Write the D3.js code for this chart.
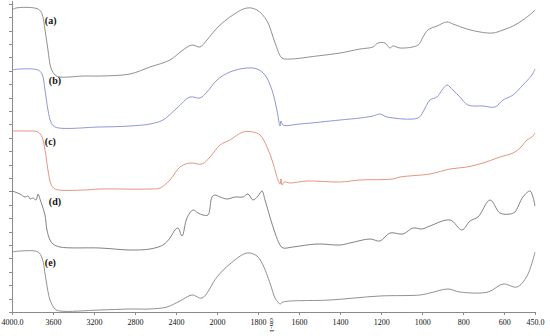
<!DOCTYPE html>
<html>
<head>
<meta charset="utf-8">
<script src="https://cdn.jsdelivr.net/npm/d3@7"></script>
<style>
  body { margin: 0; background: #fff; }
  .axis path, .axis line { stroke: #8a8a8a; shape-rendering: crispEdges; }
  .axis text { font-family: "Liberation Serif", serif; font-size: 8px; fill: #111; }
</style>
</head>
<body>
<svg id="chart" width="550" height="336"></svg>
<script>
// wavenumber (cm-1), transmittance (arbitrary, stacked)
var trace_a = [[4000,302],[3961,304],[3746,303],[3707,298],[3678,282],[3649,262],[3620,244],[3580,237],[3532,235],
  [3300,236],[3141,236],[2849,238],[2654,245],[2459,252],[2332,262],[2244,267],[2166,265],[2098,272],[2000,284],
  [1937,295],[1854,304],[1805,302],[1756,291],[1717,269],[1683,254],[1644,253],[1513,256],[1400,259],[1303,263],
  [1240,265],[1215,269],[1181,269],[1157,264],[1142,266],[1108,264],[1020,267],[996,275],[972,282],[928,286],
  [879,290],[850,288],[782,283],[718,280],[655,279],[606,282],[557,286],[509,292],[465,299],[450,302]];

var trace_b = [[4000,242],[3922,243],[3746,242],[3707,238],[3678,222],[3649,202],[3620,190],[3580,185],[3141,185],
  [2849,186],[2654,188],[2527,192],[2390,204],[2263,215],[2166,214],[2098,220],[2000,232],[1937,240],[1854,244],
  [1805,243],[1766,237],[1732,222],[1708,202],[1693,186],[1688,191],[1678,187],[1595,188],[1400,192],[1303,194],
  [1240,196],[1206,198],[1171,195],[1020,194],[996,200],[962,212],[928,215],[903,222],[879,227],[850,222],
  [816,215],[777,207],[703,206],[645,205],[606,212],[557,217],[509,227],[465,237],[450,243]];

var trace_c = [[4000,181],[3873,181],[3746,180],[3707,175],[3678,162],[3649,142],[3620,128],[3580,123],[3300,122],
  [3141,123],[2654,123],[2556,124],[2459,132],[2361,145],[2263,149],[2146,148],[2068,155],[1985,167],[1937,172],
  [1873,180],[1825,180],[1790,177],[1756,165],[1727,149],[1703,132],[1693,128],[1688,133],[1683,127],[1673,130],
  [1644,129],[1561,131],[1400,130],[1303,132],[1142,133],[1108,135],[962,138],[864,143],[782,145],[703,149],
  [621,155],[557,159],[523,164],[489,172],[465,175],[450,179]];

var trace_d = [[4000,121],[3971,120],[3922,118],[3873,115],[3844,116],[3824,113],[3795,114],[3766,112],[3746,118],
  [3727,113],[3707,107],[3678,97],[3659,82],[3629,72],[3600,68],[3532,65],[3141,64],[2849,62],[2654,63],
  [2527,67],[2459,74],[2410,82],[2380,84],[2341,76],[2293,94],[2234,102],[2185,99],[2137,97],[2088,97],
  [2049,115],[2020,117],[1985,115],[1951,113],[1912,115],[1873,115],[1849,118],[1825,112],[1800,116],[1781,121],
  [1766,112],[1742,95],[1717,79],[1693,67],[1678,64],[1630,65],[1513,68],[1400,67],[1352,69],[1254,73],
  [1206,71],[1157,79],[1093,78],[1045,84],[1001,83],[962,86],[864,92],[806,82],[767,91],[728,95],[669,112],
  [621,99],[572,98],[548,100],[509,115],[474,121],[460,115],[450,106]];

var trace_e = [[4000,60],[3922,61],[3746,60],[3707,54],[3668,32],[3629,12],[3580,3],[3532,1],[3141,2],[2849,3],
  [2654,3],[2488,5],[2361,11],[2244,17],[2146,14],[2000,35],[1937,48],[1854,59],[1805,56],[1776,47],[1742,29],
  [1717,14],[1703,10],[1693,8],[1678,10],[1449,12],[1206,16],[1011,17],[962,19],[874,23],[816,20],[679,20],
  [606,28],[538,25],[489,36],[450,60]];

var traces = [trace_a, trace_b, trace_c, trace_d, trace_e];
var trace_labels = ["(a)", "(b)", "(c)", "(d)", "(e)"];
var trace_colors = ["#858585", "#8489d6", "#e38874", "#747474", "#858585"];
var x_ticks = [4000, 3600, 3200, 2800, 2400, 2000, 1800, 1600, 1400, 1200, 1000, 800, 600, 450];

var svg = d3.select("#chart"),
    margin = {top: 0, right: 15, bottom: 24, left: 12},
    width = +svg.attr("width") - margin.left - margin.right,
    height = +svg.attr("height") - margin.top - margin.bottom,
    g = svg.append("g").attr("transform", "translate(" + margin.left + "," + margin.top + ")");

// spectrometer style scale: expanded below 2000 cm-1
var x = d3.scaleLinear()
    .domain([4000, 2000, 450])
    .range([0, 205, width]);

var y = d3.scaleLinear()
    .domain([0, 312])
    .range([height, 0]);

g.append("g")
    .attr("class", "axis")
    .attr("transform", "translate(0," + height + ")")
    .call(d3.axisBottom(x)
        .tickValues(x_ticks)
        .tickSize(3)
        .tickSizeOuter(0)
        .tickFormat(function (d) {
            return (d == 4000 || d == 450) ? d.toFixed(1) : d;
        }))
    .selectAll("text")
    .attr("dy", "0.9em");

g.append("g")
    .attr("class", "axis")
    .call(d3.axisLeft(y)
        .tickValues(d3.range(0, 312, 13.4))
        .tickSize(3)
        .tickSizeOuter(0)
        .tickFormat(""));

g.append("text")
    .attr("transform", "translate(" + (x(1750) + 2) + "," + (height + 6) + ") rotate(90)")
    .attr("font-family", "Liberation Serif, serif")
    .attr("font-size", 7)
    .attr("fill", "#111")
    .text("cm-1");

var line = d3.line()
    .x(function (d) { return x(d[0]); })
    .y(function (d) { return y(d[1]); })
    .curve(d3.curveCatmullRom.alpha(0.5));

g.selectAll(".trace")
    .data(traces)
    .enter().append("path")
    .attr("class", "trace")
    .attr("fill", "none")
    .attr("stroke-width", 0.9)
    .attr("stroke", function (d, i) { return trace_colors[i]; })
    .attr("d", line);

g.selectAll(".lbl")
    .data(traces)
    .enter().append("text")
    .attr("class", "lbl")
    .attr("x", function (d, i) { return x(3680) + (i % 2 ? 4 : 0); })
    .attr("y", function (d) { return y(d[0][1]) + 14; })
    .attr("font-family", "Liberation Serif, serif")
    .attr("font-weight", "bold")
    .attr("font-size", 10)
    .attr("fill", "#111")
    .text(function (d, i) { return trace_labels[i]; });
</script>
</body>
</html>
